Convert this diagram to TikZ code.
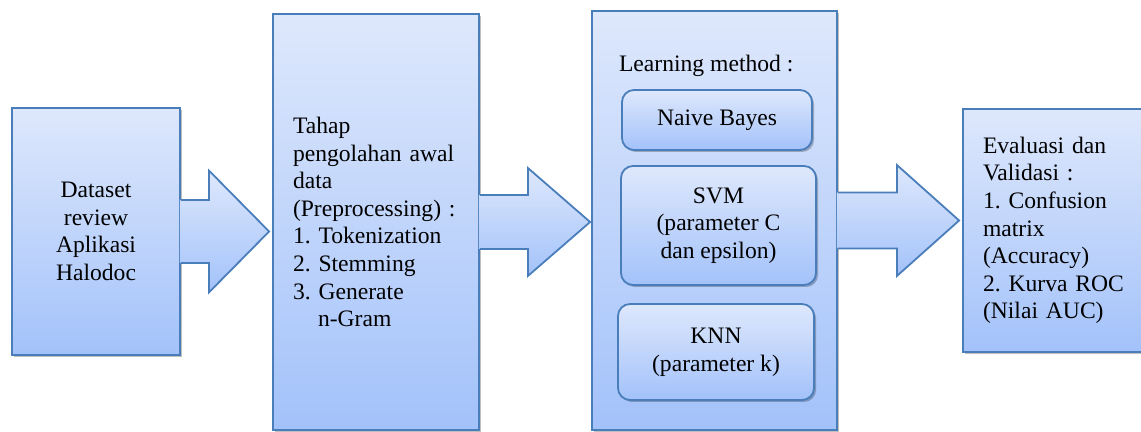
\documentclass[tikz,border=0pt]{standalone}
\usepackage{fontspec}
\setmainfont{Liberation Serif}
\usepackage{tikz}
\usetikzlibrary{calc,shadows}

\definecolor{boxtop}{HTML}{DEE8FC}
\definecolor{boxbot}{HTML}{A3C2FA}
\definecolor{boxline}{HTML}{4A7EBB}

\begin{document}
\begin{tikzpicture}[x=0.5pt, y=-0.5pt, font=\fontsize{11.8pt}{13.8pt}\selectfont\frenchspacing,
        stage/.style={draw=boxline, line width=0.9pt, top color=boxtop, bottom color=boxbot, inner sep=0pt,
            drop shadow={shadow xshift=1pt, shadow yshift=-1pt, fill=black, opacity=0.25}},
        method/.style={stage, rounded corners=6pt, align=center},
        blockfill/.style={top color=boxtop, bottom color=boxbot},
        blockline/.style={draw=boxline, line width=0.9pt, line join=miter}]
        \useasboundingbox (0,0) rectangle (1141,432);

        \node[stage, minimum width=84pt, minimum height=123.5pt, align=center] (data) at (96,231.5) {Dataset\\ review\\ Aplikasi\\ Halodoc};
        \node[stage, minimum width=103pt, minimum height=208pt, text width=83pt, align=left] (prep) at (376,222) {Tahap\\ pengolahan awal\\ data\\ (Preprocessing) :\\ 1. Tokenization\\ 2. Stemming\\ 3. Generate\\ \hspace*{12.5pt}n-Gram};
        \node[stage, minimum width=122.5pt, minimum height=209.5pt] (learn) at (714.5,220.5) {};
        \node[stage, minimum width=94pt, minimum height=121.5pt, text width=74pt, align=left] (eval) at (1057,230.5) {Evaluasi dan\\ Validasi :\\ 1. Confusion\\ matrix\\ (Accuracy)\\ 2. Kurva ROC\\ (Nilai AUC)};

        \node[anchor=base west] (learnlabel) at (612,72) {Learning method :};
        \node[method, minimum width=95pt, minimum height=30pt] (nb) at (717,120) {Naive Bayes};
        \node[method, minimum width=97.5pt, minimum height=59.5pt] (svm) at (718.5,225.5) {SVM\\ (parameter C\\ dan epsilon)};
        \node[method, minimum width=98pt, minimum height=48pt] (knn) at (716,352) {KNN\\ (parameter k)};

        % arrow data -> prep
        \path[blockfill] ($(data.east)+(-1,-31.5)$) -- ++(29,0) -- ++(0,-29.5) -- ($(data.east -| prep.west)+(-3,0)$) -- ($(data.east)+(28,61)$) -- ++(0,-29.5) -- ($(data.east)+(-1,31.5)$) -- cycle;
        \draw[blockline] ($(data.east)+(0,-31.5)$) -- ++(28,0) -- ++(0,-29.5) -- ($(data.east -| prep.west)+(-3,0)$) -- ($(data.east)+(28,61)$) -- ++(0,-29.5) -- ($(data.east)+(0,31.5)$);

        % arrow prep -> learn
        \path[blockfill] ($(prep.east)+(-1,-27)$) -- ++(49,0) -- ++(0,-27) -- ($(prep.east -| learn.west)+(-1,0)$) -- ($(prep.east)+(48,54)$) -- ++(0,-27) -- ($(prep.east)+(-1,27)$) -- cycle;
        \draw[blockline] ($(prep.east)+(0,-27)$) -- ++(48,0) -- ++(0,-27) -- ($(prep.east -| learn.west)+(-1,0)$) -- ($(prep.east)+(48,54)$) -- ++(0,-27) -- ($(prep.east)+(0,27)$);

        % arrow learn -> eval
        \path[blockfill] ($(learn.east)+(-1,-28)$) -- ++(60,0) -- ++(0,-27.5) -- ($(learn.east -| eval.west)+(-3,0)$) -- ($(learn.east)+(59,55.5)$) -- ++(0,-27.5) -- ($(learn.east)+(-1,28)$) -- cycle;
        \draw[blockline] ($(learn.east)+(0,-28)$) -- ++(59,0) -- ++(0,-27.5) -- ($(learn.east -| eval.west)+(-3,0)$) -- ($(learn.east)+(59,55.5)$) -- ++(0,-27.5) -- ($(learn.east)+(0,28)$);
\end{tikzpicture}
\end{document}
